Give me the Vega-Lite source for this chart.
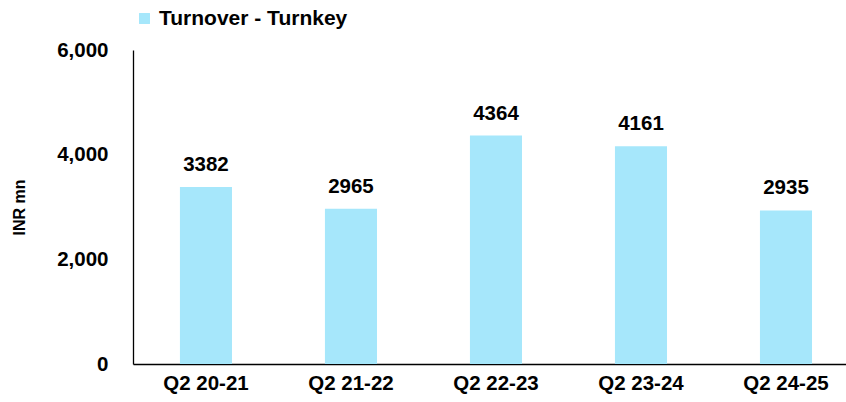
{
  "$schema": "https://vega.github.io/schema/vega-lite/v6.json",
  "width": 713,
  "height": 314,
  "autosize": "none",
  "padding": {"left": 133, "top": 50, "right": 0, "bottom": 38},
  "background": "white",
  "config": {
    "view": {"stroke": null},
    "font": "Liberation Sans"
  },
  "data": {
    "values": [
      {"quarter": "Q2 20-21", "value": 3382, "series": "Turnover - Turnkey"},
      {"quarter": "Q2 21-22", "value": 2965, "series": "Turnover - Turnkey"},
      {"quarter": "Q2 22-23", "value": 4364, "series": "Turnover - Turnkey"},
      {"quarter": "Q2 23-24", "value": 4161, "series": "Turnover - Turnkey"},
      {"quarter": "Q2 24-25", "value": 2935, "series": "Turnover - Turnkey"}
    ]
  },
  "encoding": {
    "x": {
      "field": "quarter",
      "type": "nominal",
      "sort": null,
      "scale": {"paddingInner": 0.641, "paddingOuter": 0.279, "align": 0.58},
      "axis": {
        "title": null,
        "labelAngle": 0,
        "labelFont": "Liberation Sans",
        "labelFontWeight": "bold",
        "labelFontSize": 20.5,
        "labelColor": "black",
        "labelPadding": 9,
        "ticks": false,
        "domainColor": "black",
        "domainWidth": 1.3
      }
    },
    "y": {
      "field": "value",
      "type": "quantitative",
      "scale": {"domain": [0, 6000], "nice": false},
      "axis": {
        "title": "INR mn",
        "titleFont": "Liberation Sans",
        "titleFontWeight": "bold",
        "titleFontSize": 16,
        "titleColor": "black",
        "titlePadding": 29,
        "values": [0, 2000, 4000, 6000],
        "format": ",d",
        "grid": false,
        "ticks": false,
        "labelFont": "Liberation Sans",
        "labelFontWeight": "bold",
        "labelFontSize": 20.5,
        "labelColor": "black",
        "labelPadding": 25,
        "domainColor": "black",
        "domainWidth": 1.3
      }
    }
  },
  "layer": [
    {
      "mark": {"type": "bar"},
      "encoding": {
        "color": {
          "field": "series",
          "type": "nominal",
          "scale": {"range": ["#a6e7fb"]},
          "legend": {
            "title": null,
            "orient": "none",
            "legendX": 1,
            "legendY": -42,
            "symbolType": "square",
            "symbolSize": 120,
            "symbolStrokeWidth": 0,
            "labelFont": "Liberation Sans",
            "labelFontWeight": "bold",
            "labelFontSize": 21,
            "labelColor": "black",
            "labelOffset": 4,
            "labelLimit": 400
          }
        }
      }
    },
    {
      "mark": {
        "type": "text",
        "dy": -16,
        "baseline": "alphabetic",
        "font": "Liberation Sans",
        "fontWeight": "bold",
        "fontSize": 20.5,
        "color": "black"
      },
      "encoding": {
        "text": {"field": "value", "type": "quantitative", "format": "d"}
      }
    }
  ]
}
